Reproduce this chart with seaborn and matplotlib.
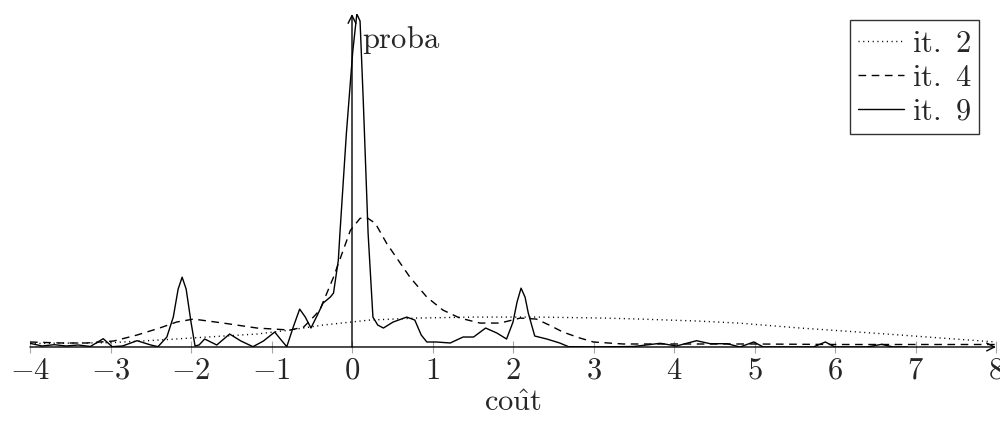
import numpy as np
import pandas as pd
import seaborn as sns
import matplotlib
matplotlib.use('Agg')
import matplotlib.pyplot as plt

# it. 9 (trait plein)
x_it9 = [-4.0, -3.85, -3.7, -3.55, -3.4, -3.25, -3.09, -2.98, -2.85, -2.67,
         -2.5, -2.41, -2.3, -2.22, -2.16, -2.11, -2.06, -2.0, -1.95, -1.9,
         -1.83, -1.68, -1.52, -1.38, -1.23, -1.1, -0.96, -0.88, -0.81, -0.73,
         -0.65, -0.58, -0.51, -0.43, -0.36, -0.27, -0.23, -0.17, -0.15, -0.07,
         0.01, 0.06, 0.10, 0.14, 0.20, 0.26, 0.32, 0.39, 0.51, 0.68,
         0.78, 0.86, 0.93, 1.05, 1.22, 1.38, 1.51, 1.66, 1.80, 1.92,
         2.00, 2.05, 2.10, 2.15, 2.19, 2.27, 2.42, 2.58, 2.69, 3.0,
         3.5, 3.83, 4.03, 4.28, 4.45, 4.66, 4.82, 4.99, 5.11, 5.73,
         5.88, 6.0, 6.4, 6.58, 6.72, 6.9]
y_it9 = [0.037, 0.01, 0.023, 0.01, 0.02, 0.005, 0.083, 0.003, 0.01, 0.063,
         0.02, 0.003, 0.1, 0.3, 0.58, 0.70, 0.58, 0.25, 0.01, 0.02,
         0.08, 0.02, 0.13, 0.06, 0.003, 0.06, 0.15, 0.07, 0.003, 0.2,
         0.38, 0.30, 0.19, 0.32, 0.44, 0.50, 0.54, 0.87, 1.14, 2.14,
         2.97, 3.34, 3.27, 2.47, 1.14, 0.30, 0.22, 0.19, 0.25, 0.30,
         0.27, 0.12, 0.05, 0.05, 0.04, 0.10, 0.10, 0.19, 0.14, 0.08,
         0.25, 0.45, 0.59, 0.50, 0.34, 0.11, 0.08, 0.04, 0.003, 0.0,
         0.005, 0.037, 0.01, 0.063, 0.033, 0.033, 0.0, 0.05, 0.0, 0.0,
         0.05, 0.0, 0.0, 0.027, 0.0, 0.0]

# it. 4 (tirets)
x_it4 = [-4.0, -3.6, -3.3, -2.96, -2.67, -2.39, -2.18, -1.97, -1.6, -1.18,
         -0.77, -0.6, -0.48, -0.4, -0.23, -0.02, 0.10, 0.18, 0.29, 0.43,
         0.60, 0.72, 0.93, 1.13, 1.34, 1.59, 1.84, 2.09, 2.29, 2.45,
         2.62, 2.83, 3.0, 3.37, 4.0, 5.0, 6.0, 7.0, 8.0]
y_it4 = [0.05, 0.04, 0.04, 0.06, 0.12, 0.19, 0.25, 0.28, 0.24, 0.19,
         0.17, 0.20, 0.30, 0.37, 0.70, 1.17, 1.29, 1.30, 1.24, 1.04,
         0.84, 0.70, 0.50, 0.37, 0.29, 0.24, 0.24, 0.29, 0.28, 0.22,
         0.15, 0.09, 0.05, 0.03, 0.03, 0.03, 0.025, 0.025, 0.025]

# it. 2 (pointillés)
x_it2 = [-4.0, -3.0, -2.39, -1.8, -1.18, -0.77, -0.36, 0.22, 0.8, 1.5,
         2.3, 3.14, 3.58, 4.3, 4.8, 5.57, 6.2, 6.81, 7.4, 8.0]
y_it2 = [0.035, 0.043, 0.07, 0.10, 0.13, 0.17, 0.22, 0.27, 0.29, 0.30,
         0.30, 0.29, 0.28, 0.26, 0.24, 0.19, 0.155, 0.12, 0.085, 0.05]

labels = ['it. 2', 'it. 4', 'it. 9']
xticks = list(range(-4, 9))

df = pd.concat([
    pd.DataFrame({'x': x_it2, 'y': y_it2, 'it': labels[0]}),
    pd.DataFrame({'x': x_it4, 'y': y_it4, 'it': labels[1]}),
    pd.DataFrame({'x': x_it9, 'y': y_it9, 'it': labels[2]}),
])

sns.set_theme(style='white')
plt.rcParams['mathtext.fontset'] = 'cm'
plt.rcParams['font.family'] = ['DejaVu Serif']

fig = plt.figure(figsize=(10, 4.23), dpi=100)
ax = fig.add_axes([0.03, 0.1797, 0.966, 0.7872])

sns.lineplot(data=df, x='x', y='y', hue='it', style='it',
             palette=['black'] * 3,
             dashes={'it. 2': (0.8, 2.6), 'it. 4': (5.5, 4.0), 'it. 9': ''},
             estimator=None, sort=True, linewidth=1.0, ax=ax, legend=False)

ax.set_xlim(-4, 8)
ax.set_ylim(0, 3.34)
for s in ax.spines.values():
    s.set_visible(False)

# axes avec flèches
ax.annotate('', xy=(8, 0), xytext=(-4, 0), annotation_clip=False,
            arrowprops=dict(arrowstyle='->', lw=1.0, color='black',
                            shrinkA=0, shrinkB=0, mutation_scale=14))
ax.annotate('', xy=(0, 3.34), xytext=(0, 0), annotation_clip=False,
            arrowprops=dict(arrowstyle='->', lw=1.0, color='black',
                            shrinkA=0, shrinkB=0, mutation_scale=14))

ax.set_xticks(xticks)
ax.set_xticklabels(['$%d$' % t for t in xticks])
ax.set_yticks([])
ax.tick_params(axis='x', direction='inout', length=9, width=0.8,
               color='0.65', labelsize=22, pad=1, bottom=True)
ax.set_xlabel(r'$\mathrm{co\hat{u}t}$', fontsize=22, labelpad=1)
ax.set_ylabel('')
ax.text(0.12, 3.0, r'$\mathrm{proba}$', fontsize=22, ha='left', va='baseline')

handles = [plt.Line2D([], [], color='black', lw=1.0, dashes=(0.8, 2.6)),
           plt.Line2D([], [], color='black', lw=1.0, dashes=(5.5, 4.0)),
           plt.Line2D([], [], color='black', lw=1.0)]
leg = ax.legend(handles, [r'$\mathrm{%s}$' % l.replace(' ', r'\ ') for l in labels],
                loc='upper right', bbox_to_anchor=(0.982, 0.982),
                borderaxespad=0, fontsize=22, frameon=True, fancybox=False,
                edgecolor='black', handlelength=1.5, handletextpad=0.25,
                labelspacing=0.1, borderpad=0.25)
leg.get_frame().set_linewidth(1.0)

fig.savefig('out.png', dpi=100)
